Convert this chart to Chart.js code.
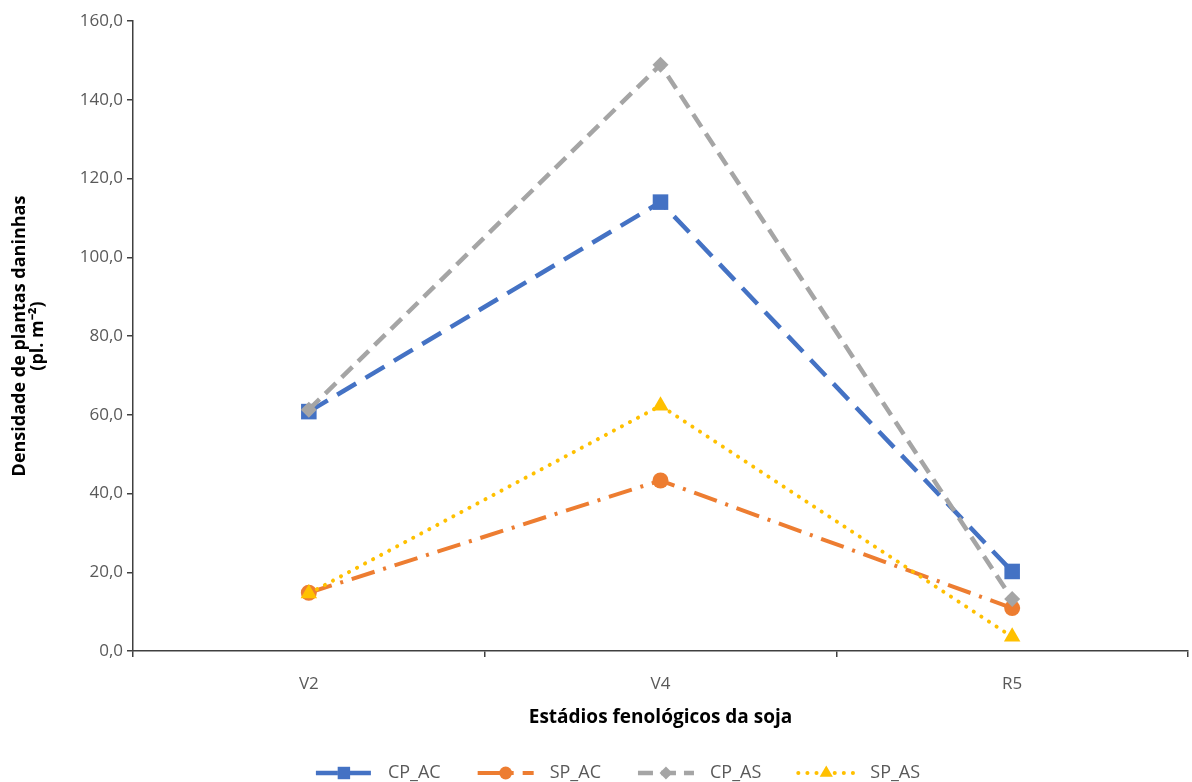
<!DOCTYPE html>
<html>
<head>
<meta charset="utf-8">
<script src="https://cdn.jsdelivr.net/npm/chart.js@4/dist/chart.umd.min.js"></script>
<style>
  html, body { margin: 0; padding: 0; background: #fff; }
  #wrap { width: 1192px; height: 782px; position: relative; }
</style>
</head>
<body>
<div id="wrap"><canvas id="chart"></canvas></div>
<script>
// data
const stages = ["V2", "V4", "R5"];
const cpAC = [60.8, 114.0, 20.2];
const spAC = [14.8, 43.3, 10.9];
const cpAS = [61.3, 148.9, 13.2];
const spAS = [14.6, 62.3, 3.6];
const yTicks = [0, 20, 40, 60, 80, 100, 120, 140, 160];

const FONT = "'Open Sans', 'Liberation Sans', sans-serif";
const TICK_COLOR = "#595959";
const AXIS_COLOR = "#404040";

// series styles
const styles = [
    { label: "CP_AC", data: cpAC, color: "#4472C4", dash: [22, 11], cap: "butt", width: 4.5, point: "rect", radius: 11 },
    { label: "SP_AC", data: spAC, color: "#ED7D31", dash: [24, 9, 3, 9], cap: "butt", width: 4, point: "circle", radius: 8 },
    { label: "CP_AS", data: cpAS, color: "#A5A5A5", dash: [15, 8], cap: "butt", width: 4.5, point: "rectRot", radius: 8 },
    { label: "SP_AS", data: spAS, color: "#FFC000", dash: [0.1, 9], cap: "round", width: 4, point: "triangle", radius: 9.5 }
];

/***********************************************
 * custom legend: line sample + marker + text
 ***********************************************/
const legendPlugin = {
    id: "sampleLegend",
    afterDraw(chart) {
        const g = chart.ctx;
        const sampleW = 56, gapText = 16, gapItem = 37;
        const centerX = 618, y = 773;
        g.save();
        g.font = "18px " + FONT;
        const widths = styles.map(s => g.measureText(s.label).width);
        const total = widths.reduce((a, w) => a + sampleW + gapText + w, 0) + gapItem * (styles.length - 1);
        let x = centerX - total / 2;
        styles.forEach((s, i) => {
            g.strokeStyle = s.color;
            g.lineWidth = s.width;
            g.lineCap = s.cap;
            g.setLineDash(s.dash);
            g.beginPath();
            g.moveTo(x, y); g.lineTo(x + sampleW, y);
            g.stroke();
            g.setLineDash([]);
            g.fillStyle = s.color;
            Chart.helpers.drawPoint(g, { pointStyle: s.point, radius: s.radius * 0.8, borderWidth: 0 }, x + sampleW / 2, y);
            g.fillStyle = TICK_COLOR;
            g.textBaseline = "middle";
            g.textAlign = "left";
            g.fillText(s.label, x + sampleW + gapText, y);
            x += sampleW + gapText + widths[i] + gapItem;
        });
        g.restore();
    }
};

function buildDatasets() {
    return styles.map((s, i) => ({
        label: s.label,
        data: s.data,
        borderColor: s.color,
        backgroundColor: s.color,
        borderWidth: s.width,
        borderDash: s.dash,
        borderCapStyle: s.cap,
        pointStyle: s.point,
        pointRadius: s.radius,
        pointBorderWidth: 0,
        pointBackgroundColor: s.color,
        tension: 0,
        order: styles.length - i   // later series drawn on top
    }));
}

const ctx = document.getElementById("chart").getContext("2d");
const chart = new Chart(ctx, {
    type: "line",
    data: { labels: stages, datasets: buildDatasets() },
    plugins: [legendPlugin],
    options: {
        responsive: true,
        maintainAspectRatio: false,
        animation: false,
        layout: { autoPadding: false, padding: { top: 21, right: 4, left: 0, bottom: 46 } },
        plugins: {
            tooltip: { enabled: false },
            legend: { display: false }
        },
        scales: {
            x: {
                offset: true,
                grid: { offset: true, drawOnChartArea: false, drawTicks: true, tickLength: 6, color: AXIS_COLOR, lineWidth: 1.5 },
                border: { display: true, color: AXIS_COLOR, width: 1.5 },
                ticks: { color: TICK_COLOR, font: { family: FONT, size: 17 }, padding: 17 },
                title: { display: true, text: "Estádios fenológicos da soja", color: "#000", font: { family: FONT, size: 19, weight: "bold" }, padding: { top: 4, bottom: 7 } },
                afterFit: (scale) => { scale.height = 85; }
            },
            y: {
                min: 0,
                max: 160,
                afterBuildTicks: (scale) => { scale.ticks = yTicks.map(v => ({ value: v })); },
                grid: { drawOnChartArea: false, drawTicks: true, tickLength: 6, color: AXIS_COLOR, lineWidth: 1.5 },
                border: { display: true, color: AXIS_COLOR, width: 1.5 },
                ticks: {
                    color: TICK_COLOR,
                    font: { family: FONT, size: 17 },
                    padding: 4,
                    callback: (v) => v.toFixed(1).replace(".", ",")
                },
                title: {
                    display: true,
                    text: ["Densidade de plantas daninhas", "(pl. m\u207B\u00B2)"],
                    color: "#000",
                    font: { family: FONT, size: 18, weight: "bold", lineHeight: 1.05 },
                    padding: { top: 10, bottom: 6 }
                },
                afterFit: (scale) => { scale.width = 133; }
            }
        }
    }
});
</script>
</body>
</html>
